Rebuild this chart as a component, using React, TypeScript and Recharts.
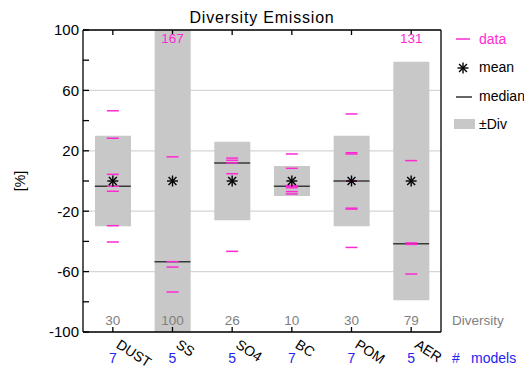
import React from "react";
import { ComposedChart, Bar, Line, XAxis, YAxis, CartesianGrid } from "recharts";

// categories and per-category stats
const categories = ["DUST", "SS", "SO4", "BC", "POM", "AER"];
const diversity = [30, 100, 26, 10, 30, 79];
const modelCounts = [7, 5, 5, 7, 7, 5];
const means = [0, 0, 0, 0, 0, 0];
const medians = [-3.5, -53.4, 12, -3.5, 0, -41.5];

// individual model deviations from the mean [%]
const dustValues = [46.5, 28.3, 4.4, -3.5, -6.8, -29.6, -40.4];
const ssValues = [167, 16, -53.4, -57, -73.5];
const so4Values = [15.2, 13.7, 12, 4.8, -46.6];
const bcValues = [17.9, 8.4, -3, -3.5, -4.5, -7, -8.6];
const pomValues = [44.4, 18.7, 17.9, 0, -18, -18.6, -44];
const aerValues = [131, 13.5, -41, -42, -61.6];
const modelValues = [dustValues, ssValues, so4Values, bcValues, pomValues, aerValues];

const yTicks = [-100, -80, -60, -40, -20, 0, 20, 40, 60, 80, 100];
const yLabels = [100, 60, 20, -20, -60, -100];
const gridValues = [60, 20, -20, -60];

const Y_MIN = -100;
const Y_MAX = 100;
const BOX_W = 36;
const FONT = "'Liberation Sans', Arial, sans-serif";
const MAGENTA = "#ff2ad4";
const BLUE = "#2424f2";
const GRAY_TEXT = "#808080";
const BOX_FILL = "#c8c8c8";

const maxModels = Math.max(...modelValues.map((v) => v.length));
const dataKeys = Array.from({ length: maxModels }, (_, i) => `d${i}`);

const rows = categories.map((cat, i) => {
  const row: Record<string, any> = {
    cat,
    box: [-diversity[i], diversity[i]],
    mean: means[i],
    median: medians[i],
  };
  modelValues[i].forEach((v, j) => {
    row[`d${j}`] = v;
  });
  return row;
});

const Asterisk = ({ cx, cy, r = 5.5 }: { cx: number; cy: number; r?: number }) => {
  const d = r * 0.72;
  return (
    <g stroke="#000" strokeWidth={1.4}>
      <line x1={cx} x2={cx} y1={cy - r} y2={cy + r} />
      <line x1={cx - r} x2={cx + r} y1={cy} y2={cy} />
      <line x1={cx - d} x2={cx + d} y1={cy - d} y2={cy + d} />
      <line x1={cx - d} x2={cx + d} y1={cy + d} y2={cy - d} />
    </g>
  );
};

const DataDash = (props: any) => {
  const { cx, cy, value } = props;
  if (cx == null || cy == null || value == null || value > Y_MAX || value < Y_MIN) return <g />;
  return <line x1={cx - 6} x2={cx + 6} y1={cy} y2={cy} stroke={MAGENTA} strokeWidth={1.5} />;
};

const MeanDot = (props: any) => {
  const { cx, cy } = props;
  if (cx == null || cy == null) return <g />;
  return <Asterisk cx={cx} cy={cy} />;
};

const MedianDot = (props: any) => {
  const { cx, cy } = props;
  if (cx == null || cy == null) return <g />;
  return (
    <line x1={cx - BOX_W / 2} x2={cx + BOX_W / 2} y1={cy} y2={cy} stroke="#3a3a3a" strokeWidth={1.5} />
  );
};

const BottomTick = (props: any) => {
  const { x, y, index } = props;
  const lx = x + 2.5;
  const ly = y + 15;
  return (
    <g fontFamily={FONT}>
      <text x={x} y={y - 7} textAnchor="middle" fontSize={13.5} fill={GRAY_TEXT}>
        {diversity[index]}
      </text>
      <text x={lx} y={ly} fontSize={14} fill="#000" transform={`rotate(33, ${lx}, ${ly})`}>
        {categories[index]}
      </text>
      <text x={x} y={y + 31} textAnchor="middle" fontSize={14} fill={BLUE}>
        {modelCounts[index]}
      </text>
    </g>
  );
};

const TopTick = (props: any) => {
  const { x, y, index } = props;
  const outside = modelValues[index].filter((v) => v > Y_MAX);
  if (!outside.length) return <g />;
  return (
    <text x={x} y={y + 8} textAnchor="middle" fontSize={13.5} fill={MAGENTA} fontFamily={FONT}>
      {outside.join(" ")}
    </text>
  );
};

const Overlay = () => (
  <svg
    width={524}
    height={370}
    style={{ position: "absolute", left: 0, top: 0, pointerEvents: "none" }}
    fontFamily={FONT}
  >
    <text x={262} y={23} textAnchor="middle" fontSize={16} letterSpacing={0.8} fill="#000">
      Diversity Emission
    </text>
    <text x={25} y={181} textAnchor="middle" fontSize={14} fill="#000" transform="rotate(-90, 25, 181)">
      [%]
    </text>

    <line x1={456} x2={470} y1={39} y2={39} stroke={MAGENTA} strokeWidth={1.5} />
    <text x={479} y={44} fontSize={14} fill={MAGENTA}>data</text>
    <Asterisk cx={463} cy={68} />
    <text x={479} y={72} fontSize={14} fill="#000">mean</text>
    <line x1={456} x2={472} y1={97} y2={97} stroke="#000" strokeWidth={1.2} />
    <text x={479} y={101} fontSize={14} fill="#000">median</text>
    <rect x={454} y={119} width={21} height={10} fill={BOX_FILL} />
    <text x={479} y={129} fontSize={14} fill="#000">±Div</text>

    <text x={452} y={325} fontSize={13.5} fill={GRAY_TEXT}>Diversity</text>
    <text x={452} y={363} fontSize={14} fill={BLUE}>#</text>
    <text x={471} y={363} fontSize={14} fill={BLUE}>models</text>
  </svg>
);

const axisStroke = { stroke: "#000", strokeWidth: 1.3 };

export default function App() {
  return (
    <div style={{ position: "absolute", left: 0, top: 0, width: 524, height: 370, background: "#fff" }}>
      <ComposedChart
        width={524}
        height={370}
        data={rows}
        margin={{ top: 29, right: 82, bottom: 37, left: 82 }}
      >
        <CartesianGrid vertical={false} yAxisId="grid" stroke="#d6d6d6" strokeWidth={1.2} />
        <XAxis
          dataKey="cat"
          type="category"
          height={1}
          interval={0}
          tickSize={-5}
          tickMargin={5}
          tick={<BottomTick />}
          axisLine={axisStroke}
          tickLine={axisStroke}
        />
        <XAxis
          xAxisId="top"
          orientation="top"
          dataKey="cat"
          type="category"
          height={1}
          interval={0}
          tickSize={-5}
          tickMargin={0}
          tick={<TopTick />}
          axisLine={axisStroke}
          tickLine={axisStroke}
        />
        <YAxis
          type="number"
          domain={[Y_MIN, Y_MAX]}
          ticks={yTicks}
          allowDataOverflow
          width={1}
          interval={0}
          tickSize={-6}
          tickMargin={10}
          tickFormatter={(v: number) => (yLabels.includes(v) ? String(v) : "")}
          tick={{ fill: "#000", fontSize: 15, fontFamily: FONT }}
          axisLine={axisStroke}
          tickLine={axisStroke}
        />
        <YAxis
          yAxisId="right"
          orientation="right"
          type="number"
          domain={[Y_MIN, Y_MAX]}
          ticks={yTicks}
          allowDataOverflow
          width={1}
          interval={0}
          tickSize={-6}
          tick={false}
          axisLine={axisStroke}
          tickLine={axisStroke}
        />
        <YAxis
          yAxisId="grid"
          type="number"
          domain={[Y_MIN, Y_MAX]}
          ticks={gridValues}
          allowDataOverflow
          width={0}
          hide
        />
        <Bar dataKey="box" fill={BOX_FILL} barSize={BOX_W} isAnimationActive={false} />
        <Line
          dataKey="median"
          stroke="none"
          dot={<MedianDot />}
          activeDot={false}
          isAnimationActive={false}
        />
        {dataKeys.map((k) => (
          <Line
            key={k}
            dataKey={k}
            stroke="none"
            dot={<DataDash />}
            activeDot={false}
            connectNulls={false}
            isAnimationActive={false}
          />
        ))}
        <Line
          dataKey="mean"
          stroke="none"
          dot={<MeanDot />}
          activeDot={false}
          isAnimationActive={false}
        />
      </ComposedChart>
      <Overlay />
    </div>
  );
}
